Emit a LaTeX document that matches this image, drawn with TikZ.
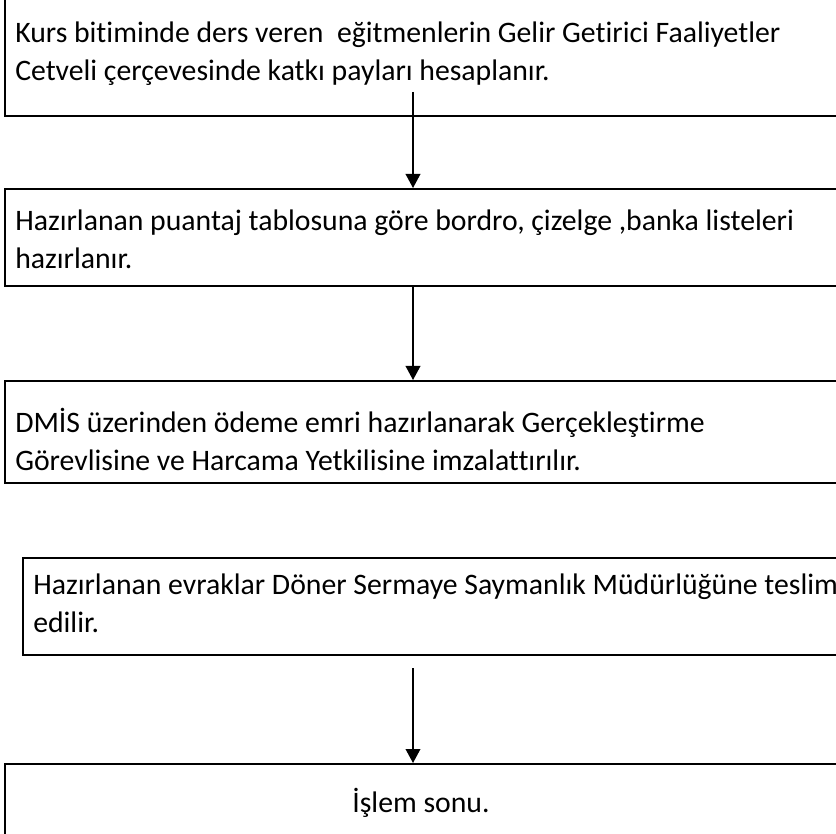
\documentclass[tikz,border=0pt]{standalone}
\usepackage{fontspec}
\setmainfont{Carlito}[Ligatures=NoCommon]
\usetikzlibrary{arrows.meta}
\begin{document}
\begin{tikzpicture}[x=0.75pt,y=-0.75pt,
  box/.style={draw, line width=1.2pt, rectangle, anchor=north west, inner sep=0pt,
    minimum width=#1},
  txtfont/.style={font=\fontsize{22.3}{28.5}\selectfont},
  txt/.style={txtfont, align=left, anchor=west, inner sep=0pt},
  arr/.style={-{Triangle[width=11pt,length=10.5pt]}, line width=1.1pt}]
\useasboundingbox (0,0) rectangle (836,834);
\clip (0,0) rectangle (836,834);
% boxes
\node[box=627pt, minimum height=91.5pt] (b1) at (4,-7) {};
\node[box=627pt, minimum height=72.75pt] (b2) at (4,188) {};
\node[box=627pt, minimum height=76.5pt] (b3) at (4,380) {};
\node[box=613.5pt, minimum height=72.75pt] (b4) at (22,557) {};
\node[box=627pt, minimum height=72.75pt] (b5) at (4,763) {};
% texts
\node[txt] (t1) at (15,54) {Kurs bitiminde ders veren \ eğitmenlerin Gelir Getirici Faaliyetler\\Cetveli çerçevesinde katkı payları hesaplanır.};
\node[txt] (t2) at (15,239) {Hazırlanan puantaj tablosuna göre bordro, çizelge ,banka listeleri\\hazırlanır.};
\node[txt] (t3) at (15,439) {DMİS üzerinden ödeme emri hazırlanarak Gerçekleştirme\\Görevlisine ve Harcama Yetkilisine imzalattırılır.};
\node[txt] (t4) at (33,603) {Hazırlanan evraklar Döner Sermaye Saymanlık Müdürlüğüne teslim\\edilir.};
\node[txtfont, inner sep=0pt] (t5) at (421,803) {İşlem sonu.};
% arrows
\coordinate (s1) at (413,92);
\coordinate (s4) at (413,668);
\draw[arr] (s1) -- (s1 |- b2.north);
\draw[arr] (s1 |- b2.south) -- (s1 |- b3.north);
\draw[arr] (s4) -- (s4 |- b5.north);
\end{tikzpicture}
\end{document}
